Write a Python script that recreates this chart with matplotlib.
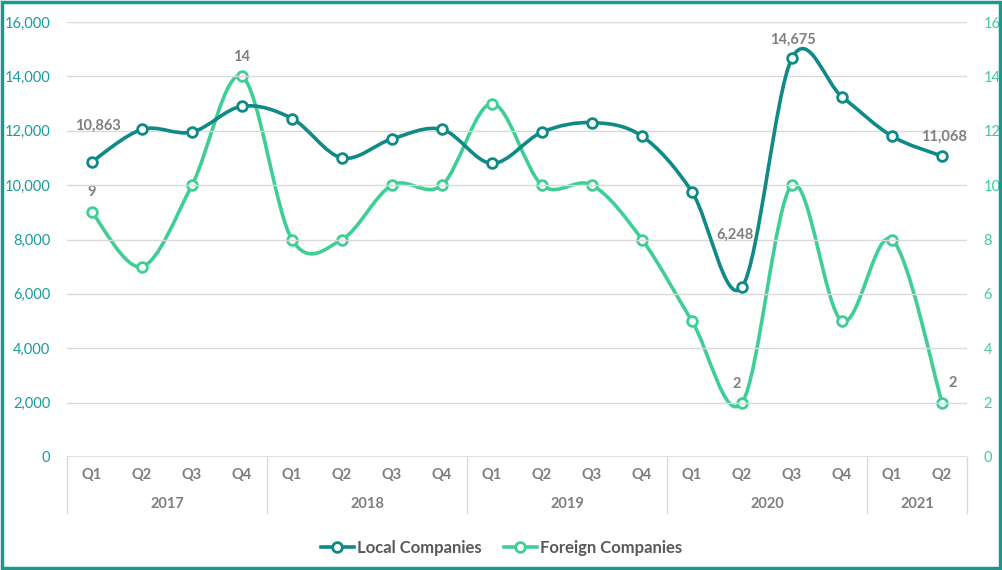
import numpy as np
import matplotlib.pyplot as plt
from matplotlib.path import Path
from matplotlib.patches import PathPatch, Rectangle
from matplotlib.lines import Line2D

plt.rcParams['font.family'] = ['Lato', 'DejaVu Sans']

quarters = ["Q1", "Q2", "Q3", "Q4", "Q1", "Q2", "Q3", "Q4", "Q1", "Q2", "Q3", "Q4",
            "Q1", "Q2", "Q3", "Q4", "Q1", "Q2"]
years = ["2017", "2018", "2019", "2020", "2021"]
quarters_per_year = [4, 4, 4, 4, 2]

local = [10863, 12050, 11950, 12900, 12450, 11000, 11700, 12050, 10800,
         11950, 12300, 11800, 9750, 6248, 14675, 13250, 11800, 11068]
foreign = [9, 7, 10, 14, 8, 8, 10, 10, 13, 10, 10, 8, 5, 2, 10, 5, 8, 2]

c_local = "#0f8a85"
c_foreign = "#3fcf96"
c_text = "#7f7f7f"
c_grid = "#d9d9d9"


def smooth_path(xs, ys):
    # catmull-rom style bezier, roughly what Excel's "smoothed line" does
    pts = np.column_stack([xs, ys]).astype(float)
    n = len(pts)
    verts = [pts[0]]
    codes = [Path.MOVETO]
    for i in range(n - 1):
        p0 = pts[max(i - 1, 0)]
        p1 = pts[i]
        p2 = pts[i + 1]
        p3 = pts[min(i + 2, n - 1)]
        c1 = p1 + (p2 - p0) / 6.0
        c2 = p2 - (p3 - p1) / 6.0
        verts += [c1, c2, p2]
        codes += [Path.CURVE4] * 3
    return Path(verts, codes)


fig = plt.figure(figsize=(10.03, 5.70), dpi=100)
ax = fig.add_axes([67 / 1003, 1 - 457 / 570, 900 / 1003, 435 / 570])
ax2 = ax.twinx()

x = np.arange(len(local))

ax.set_xlim(-0.5, len(local) - 0.5)
ax.set_ylim(0, 16000)
ax2.set_ylim(0, 16)

ax.add_patch(PathPatch(smooth_path(x, local), fill=False, ec=c_local, lw=2.6,
                       capstyle='round', joinstyle='round', zorder=3))
ax.plot(x, local, ls='none', marker='o', ms=7, mfc='white', mec=c_local, mew=2, zorder=4)
ax2.add_patch(PathPatch(smooth_path(x, foreign), fill=False, ec=c_foreign, lw=2.6,
                        capstyle='round', joinstyle='round', zorder=3))
ax2.plot(x, foreign, ls='none', marker='o', ms=7, mfc='white', mec=c_foreign, mew=2, zorder=4)

ax.set_zorder(ax2.get_zorder() + 1)
ax.patch.set_visible(False)

# gridlines and axes styling
ax.set_yticks(np.arange(0, 16001, 2000))
ax.set_yticklabels([f"{v:,}" for v in range(0, 16001, 2000)])
ax2.set_yticks(np.arange(0, 17, 2))
for v in range(2000, 16001, 2000):
    ax.axhline(v, color=c_grid, lw=1, zorder=0)
ax.axhline(0, color=c_grid, lw=1.2, zorder=0)
for a in (ax, ax2):
    for s in a.spines.values():
        s.set_visible(False)
    a.tick_params(length=0)
ax.tick_params(axis='y', colors="#1a9a9a", labelsize=10.5, pad=12)
ax2.tick_params(axis='y', colors=c_foreign, labelsize=10.5, pad=12)
ax.set_xticks([])

# two level category axis
trans = ax.get_xaxis_transform()
for i, q in enumerate(quarters):
    ax.text(i, -0.042, q, transform=trans, ha='center', va='center',
            color=c_text, fontsize=10.5, fontweight='bold')
start = 0
bounds = [0]
for yr, n in zip(years, quarters_per_year):
    ax.text(start + (n - 1) / 2, -0.108, yr, transform=trans, ha='center', va='center',
            color=c_text, fontsize=10.5, fontweight='bold')
    start += n
    bounds.append(start)
for b in bounds:
    ax.plot([b - 0.5, b - 0.5], [0, -0.128], transform=trans, color=c_grid,
            lw=1, clip_on=False)

# data labels (offsets in points)
lab = dict(color=c_text, fontsize=10.5, fontweight='bold', ha='center', va='center',
           textcoords='offset points')
ax.annotate(f"{local[0]:,}", (0, local[0]), xytext=(4, 26), **lab)
ax.annotate(f"{local[13]:,}", (13, local[13]), xytext=(-5, 38), **lab)
ax.annotate(f"{local[14]:,}", (14, local[14]), xytext=(1, 13), **lab)
ax.annotate(f"{local[17]:,}", (17, local[17]), xytext=(1.5, 13.7), **lab)
for i, dx, dy in [(0, 0, 14.4), (3, 0, 13.7), (13, -3.6, 13.7), (17, 8, 14.4)]:
    ax2.annotate(f"{foreign[i]}", (i, foreign[i]), xytext=(dx, dy), **lab)

# legend
handles = [Line2D([], [], color=c_local, lw=2.6, marker='o', ms=7, mfc='white', mew=2),
           Line2D([], [], color=c_foreign, lw=2.6, marker='o', ms=7, mfc='white', mew=2)]
fig.legend(handles, ["Local Companies", "Foreign Companies"], loc='center',
           bbox_to_anchor=(0.5, 1 - 548 / 570), ncol=2, frameon=False,
           handlelength=2.0, handletextpad=0.2, columnspacing=1.3,
           prop={'weight': 'bold', 'size': 12}, labelcolor="#595959")

# outer frame
fig.patches.append(Rectangle((0.002, 0.003), 0.995, 0.993, transform=fig.transFigure,
                             fill=False, ec="#1a9a8f", lw=2.5))

fig.savefig("out.png", dpi=100)
